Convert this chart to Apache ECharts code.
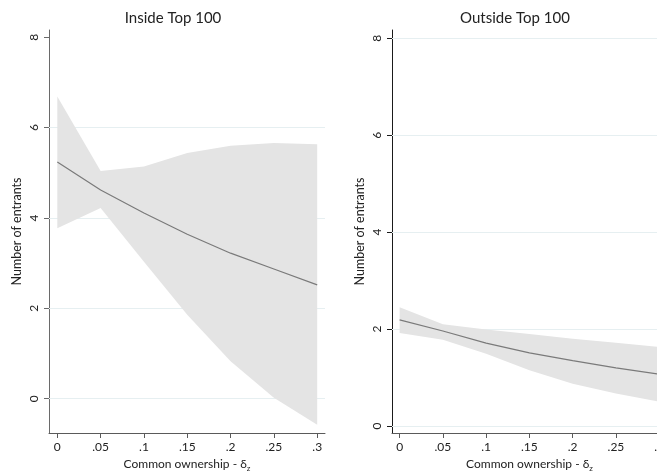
<!DOCTYPE html>
<html>
<head>
<meta charset="utf-8">
<script src="https://cdn.jsdelivr.net/npm/echarts@6/dist/echarts.min.js"></script>
<style>
  html, body { margin: 0; padding: 0; background: #fff; }
  #chart { width: 657px; height: 471px; }
</style>
</head>
<body>
<div id="chart"></div>
<script type="text/javascript">
    // x values (common ownership delta_z)
    var xVals = [0, 0.05, 0.1, 0.15, 0.2, 0.25, 0.3];
    var yTicks = [0, 2, 4, 6, 8];

    // Inside Top 100
    var inMean  = [5.24, 4.62, 4.11, 3.64, 3.22, 2.87, 2.52];
    var inUpper = [6.69, 5.04, 5.14, 5.44, 5.60, 5.66, 5.63];
    var inLower = [3.77, 4.22, 3.03, 1.86, 0.83, 0.02, -0.58];

    // Outside Top 100
    var outMean  = [2.19, 1.96, 1.71, 1.51, 1.35, 1.20, 1.07];
    var outUpper = [2.45, 2.10, 1.99, 1.90, 1.80, 1.72, 1.63];
    var outLower = [1.92, 1.78, 1.49, 1.15, 0.87, 0.67, 0.50];

    var font = 'Lato, "Open Sans", sans-serif';
    var bandColor = '#e4e4e4';
    var lineColor = '#7a7a7a';
    var gridColor = '#e6eff1';

    function pairs(arr) {
        return xVals.map(function (x, i) { return [x, arr[i]]; });
    }
    function xLabel(v) {
        return v === 0 ? '0' : String(v).replace(/^0/, '');
    }

    function xAxisFor(idx, min, max) {
        return {
            type: 'value', gridIndex: idx, min: min, max: max,
            name: '{m|Common ownership - δ}{sub|z}',
            nameLocation: 'middle', nameGap: 18,
            nameTextStyle: {
                rich: {
                    m: { fontFamily: font, fontSize: 12, color: '#222', lineHeight: 16, verticalAlign: 'bottom' },
                    sub: { fontFamily: font, fontSize: 8, color: '#222', lineHeight: 16, verticalAlign: 'bottom', padding: [0, 0, -3, 0] }
                }
            },
            axisLine: { show: true, onZero: false, lineStyle: { color: '#5a5a5a', width: 1 } },
            axisTick: { show: true, inside: false, length: 5, customValues: xVals, lineStyle: { color: '#5a5a5a' } },
            axisLabel: { customValues: xVals, formatter: xLabel, fontFamily: font, fontSize: 12, color: '#222', margin: 8 },
            splitLine: { show: false }
        };
    }
    function yAxisFor(idx, min, max, axisColor, gap) {
        return {
            type: 'value', gridIndex: idx, min: min, max: max,
            name: 'Number of entrants',
            nameLocation: 'middle', nameGap: gap,
            nameTextStyle: { fontFamily: font, fontSize: 12.5, color: '#222' },
            axisLine: { show: true, onZero: false, lineStyle: { color: axisColor, width: 1 } },
            axisTick: { show: true, inside: false, length: 5, customValues: yTicks, lineStyle: { color: axisColor } },
            axisLabel: { customValues: yTicks, rotate: 90, fontFamily: font, fontSize: 12, color: '#222', margin: 9 },
            splitLine: { show: false }
        };
    }
    // confidence band drawn as one polygon: upper edge then lower edge reversed
    function bandRenderer(up, lo) {
        return function (params, api) {
            if (params.dataIndex !== 0) return;
            var pts = [];
            xVals.forEach(function (x, i) { pts.push(api.coord([x, up[i]])); });
            for (var i = xVals.length - 1; i >= 0; i--) pts.push(api.coord([xVals[i], lo[i]]));
            return {
                type: 'polygon',
                shape: { points: pts },
                style: { fill: bandColor, stroke: null }
            };
        };
    }
    function panelSeries(idx, mean, up, lo, gridVals) {
        return [{
            type: 'custom', xAxisIndex: idx, yAxisIndex: idx, z: 2,
            silent: true, clip: true,
            data: xVals.map(function (x, i) { return [x, lo[i], up[i]]; }),
            encode: { x: 0, y: [1, 2] },
            renderItem: bandRenderer(up, lo)
        }, {
            type: 'line', xAxisIndex: idx, yAxisIndex: idx, z: 3,
            data: pairs(mean), showSymbol: false, silent: true,
            lineStyle: { color: lineColor, width: 1.2 },
            markLine: {
                silent: true, symbol: ['none', 'none'], label: { show: false },
                lineStyle: { color: gridColor, width: 1, type: 'solid' },
                z: 1,
                data: gridVals.map(function (v) { return { yAxis: v }; })
            }
        }];
    }

    var chart = echarts.init(document.getElementById('chart'));

    var option = {
        animation: false,
        backgroundColor: '#fff',
        title: [{
            text: 'Inside Top 100', left: 168, top: 6, textAlign: 'center',
            textStyle: { fontFamily: font, fontSize: 15, fontWeight: 'normal', color: '#222' }
        }, {
            text: 'Outside Top 100', left: 510, top: 6, textAlign: 'center',
            textStyle: { fontFamily: font, fontSize: 15, fontWeight: 'normal', color: '#222' }
        }],
        grid: [
            { left: 49, top: 30, width: 276, bottom: 38, outerBoundsMode: 'none', containLabel: false },
            { left: 392, top: 30, width: 275, bottom: 38, outerBoundsMode: 'none', containLabel: false }
        ],
        xAxis: [
            xAxisFor(0, -0.0096, 0.309),
            xAxisFor(1, -0.0088, 0.309)
        ],
        yAxis: [
            yAxisFor(0, -0.76, 8.16, '#6a6a6a', 26),
            yAxisFor(1, -0.144, 8.17, '#1a1a1a', 26)
        ],
        series: [].concat(
            panelSeries(0, inMean, inUpper, inLower, [0, 2, 4, 6]),
            panelSeries(1, outMean, outUpper, outLower, [0, 2, 4, 6, 8])
        )
    };

    chart.setOption(option);
</script>
</body>
</html>
